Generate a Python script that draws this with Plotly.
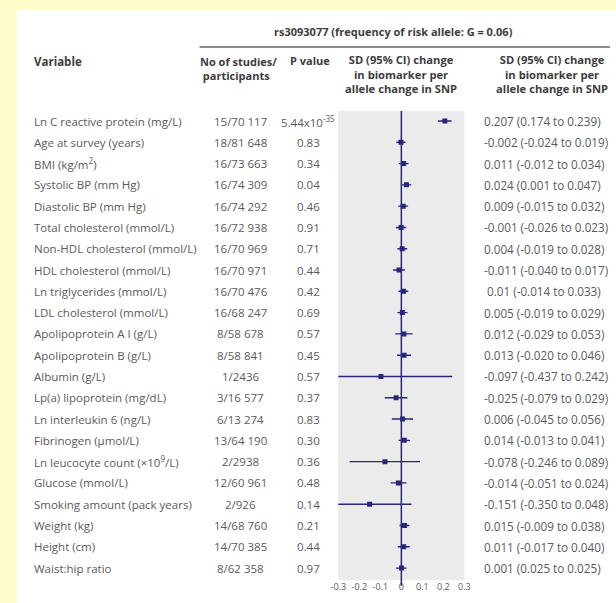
import plotly.graph_objects as go

# ---- data -------------------------------------------------------------
variables = [
    "Ln C reactive protein (mg/L)",
    "Age at survey (years)",
    "BMI (kg/m<sup>2</sup>)",
    "Systolic BP (mm Hg)",
    "Diastolic BP (mm Hg)",
    "Total cholesterol (mmol/L)",
    "Non-HDL cholesterol (mmol/L)",
    "HDL cholesterol (mmol/L)",
    "Ln triglycerides (mmol/L)",
    "LDL cholesterol (mmol/L)",
    "Apolipoprotein A I (g/L)",
    "Apolipoprotein B (g/L)",
    "Albumin (g/L)",
    "Lp(a) lipoprotein (mg/dL)",
    "Ln interleukin 6 (ng/L)",
    "Fibrinogen (µmol/L)",
    "Ln leucocyte count (×10<sup>9</sup>/L)",
    "Glucose (mmol/L)",
    "Smoking amount (pack years)",
    "Weight (kg)",
    "Height (cm)",
    "Waist:hip ratio",
]
studies = ["15/70 117", "18/81 648", "16/73 663", "16/74 309", "16/74 292",
           "16/72 938", "16/70 969", "16/70 971", "16/70 476", "16/68 247",
           "8/58 678", "8/58 841", "1/2436", "3/16 577", "6/13 274",
           "13/64 190", "2/2938", "12/60 961", "2/926", "14/68 760",
           "14/70 385", "8/62 358"]
p_values = ["5.44x10<sup>-35</sup>", "0.83", "0.34", "0.04", "0.46", "0.91",
            "0.71", "0.44", "0.42", "0.69", "0.57", "0.45", "0.57", "0.37",
            "0.83", "0.30", "0.36", "0.48", "0.14", "0.21", "0.44", "0.97"]
estimate = [0.207, -0.002, 0.011, 0.024, 0.009, -0.001, 0.004, -0.011, 0.01,
            0.005, 0.012, 0.013, -0.097, -0.025, 0.006, 0.014, -0.078, -0.014,
            -0.151, 0.015, 0.011, 0.001]
ci_low = [0.174, -0.024, -0.012, 0.001, -0.015, -0.026, -0.019, -0.040,
          -0.014, -0.019, -0.029, -0.020, -0.437, -0.079, -0.045, -0.013,
          -0.246, -0.051, -0.350, -0.009, -0.017, -0.025]
ci_high = [0.239, 0.019, 0.034, 0.047, 0.032, 0.023, 0.028, 0.017, 0.033,
           0.029, 0.053, 0.046, 0.242, 0.029, 0.056, 0.041, 0.089, 0.024,
           0.048, 0.038, 0.040, 0.025]
ci_text = ["0.207 (0.174 to 0.239)", "-0.002 (-0.024 to 0.019)",
           "0.011 (-0.012 to 0.034)", "0.024 (0.001 to 0.047)",
           "0.009 (-0.015 to 0.032)", "-0.001 (-0.026 to 0.023)",
           "0.004 (-0.019 to 0.028)", "-0.011 (-0.040 to 0.017)",
           " 0.01 (-0.014 to 0.033)", "0.005 (-0.019 to 0.029)",
           "0.012 (-0.029 to 0.053)", "0.013 (-0.020 to 0.046)",
           "-0.097 (-0.437 to 0.242)", "-0.025 (-0.079 to 0.029)",
           "0.006 (-0.045 to 0.056)", "0.014 (-0.013 to 0.041)",
           "-0.078 (-0.246 to 0.089)", "-0.014 (-0.051 to 0.024)",
           "-0.151 (-0.350 to 0.048)", "0.015 (-0.009 to 0.038)",
           "0.011 (-0.017 to 0.040)", "0.001 (0.025 to 0.025)"]
tick_vals = [-0.3, -0.2, -0.1, 0, 0.1, 0.2, 0.3]
tick_text = ["-0.3", "-0.2", "-0.1", "0", "0.1", "0.2", "0.3"]

# ---- layout helpers ---------------------------------------------------
W, H = 616, 603
NAVY = "#26267c"
TXT = "#5a5a5a"
HEAD = "#3c3c3c"
FONT = "Open Sans"


def px(x):
    return x / W


def py(y):
    return 1 - y / H


rows = list(range(len(variables)))

fig = go.Figure()

# confidence interval segments
seg_x, seg_y = [], []
for i in rows:
    seg_x += [ci_low[i], ci_high[i], None]
    seg_y += [i, i, None]
fig.add_trace(go.Scatter(x=seg_x, y=seg_y, mode="lines",
                         line=dict(color=NAVY, width=1.4),
                         hoverinfo="skip", showlegend=False))
# point estimates
fig.add_trace(go.Scatter(x=estimate, y=rows, mode="markers",
                         marker=dict(symbol="square", size=5, color=NAVY),
                         showlegend=False))

shapes = [
    # white card on the yellow page
    dict(type="rect", xref="paper", yref="paper", x0=px(9), x1=1.02,
         y0=-0.02, y1=py(10), fillcolor="white", line_width=0, layer="below"),
    # grey plotting panel
    dict(type="rect", xref="x domain", yref="y domain", x0=0, x1=1, y0=0,
         y1=1, fillcolor="#ebebeb", line_width=0, layer="below"),
    # line of no effect
    dict(type="line", xref="x", yref="y domain", x0=0, x1=0, y0=-0.012,
         y1=1, line=dict(color=NAVY, width=1.5)),
    # rule under the SNP heading
    dict(type="line", xref="paper", yref="paper", x0=px(196), x1=1,
         y0=py(47), y1=py(47), line=dict(color="#8a8a8a", width=2)),
]

ann = []


def add_text(text, x, y, anchor="left", size=11.5, color=TXT, bold=False,
             yref="paper", align=None):
    if bold:
        text = "<b>" + text + "</b>"
    ann.append(dict(text=text, x=x, y=y, xref="paper", yref=yref,
                    xanchor=anchor, yanchor="middle", showarrow=False,
                    align=align or anchor, borderpad=0,
                    font=dict(family=FONT, size=size, color=color)))


# header block
add_text("rs3093077 (frequency of risk allele: G = 0.06)", px(394), py(32),
         anchor="center", size=11, color=HEAD, bold=True)
add_text("Variable", px(26), py(62), size=11.5, color=HEAD, bold=True)
add_text("No of studies/<br>&nbsp;participants", px(195), py(68), size=11,
         color=HEAD, bold=True)
add_text("P value", px(288), py(61), size=11, color=HEAD, bold=True)
for cx in (402, 557):
    add_text("SD (95% CI) change<br>in biomarker per<br>allele change in SNP",
             px(cx), py(74), anchor="center", size=11.2, color=HEAD,
             bold=True)

# table body
for i in rows:
    add_text(variables[i], px(26), i, yref="y")
    add_text(studies[i], px(238), i, anchor="center", yref="y")
    add_text(p_values[i], px(307), i, anchor="center", yref="y")
    add_text(ci_text[i], px(486), i, yref="y", size=11.7)

fig.update_layout(
    width=W, height=H,
    margin=dict(l=0, r=0, t=0, b=0),
    paper_bgcolor="#fffccb",
    plot_bgcolor="rgba(0,0,0,0)",
    shapes=shapes,
    annotations=ann,
    showlegend=False,
    xaxis=dict(domain=[px(338), px(467)], range=[-0.3, 0.3],
               tickvals=tick_vals, ticktext=tick_text, ticks="",
               showgrid=False, zeroline=False, showline=False,
               tickfont=dict(family=FONT, size=9, color=TXT)),
    yaxis=dict(domain=[py(580), py(111)], range=[21.56, -0.47],
               showticklabels=False, ticks="", showgrid=False,
               zeroline=False, showline=False),
)

fig.write_html("out.html")
